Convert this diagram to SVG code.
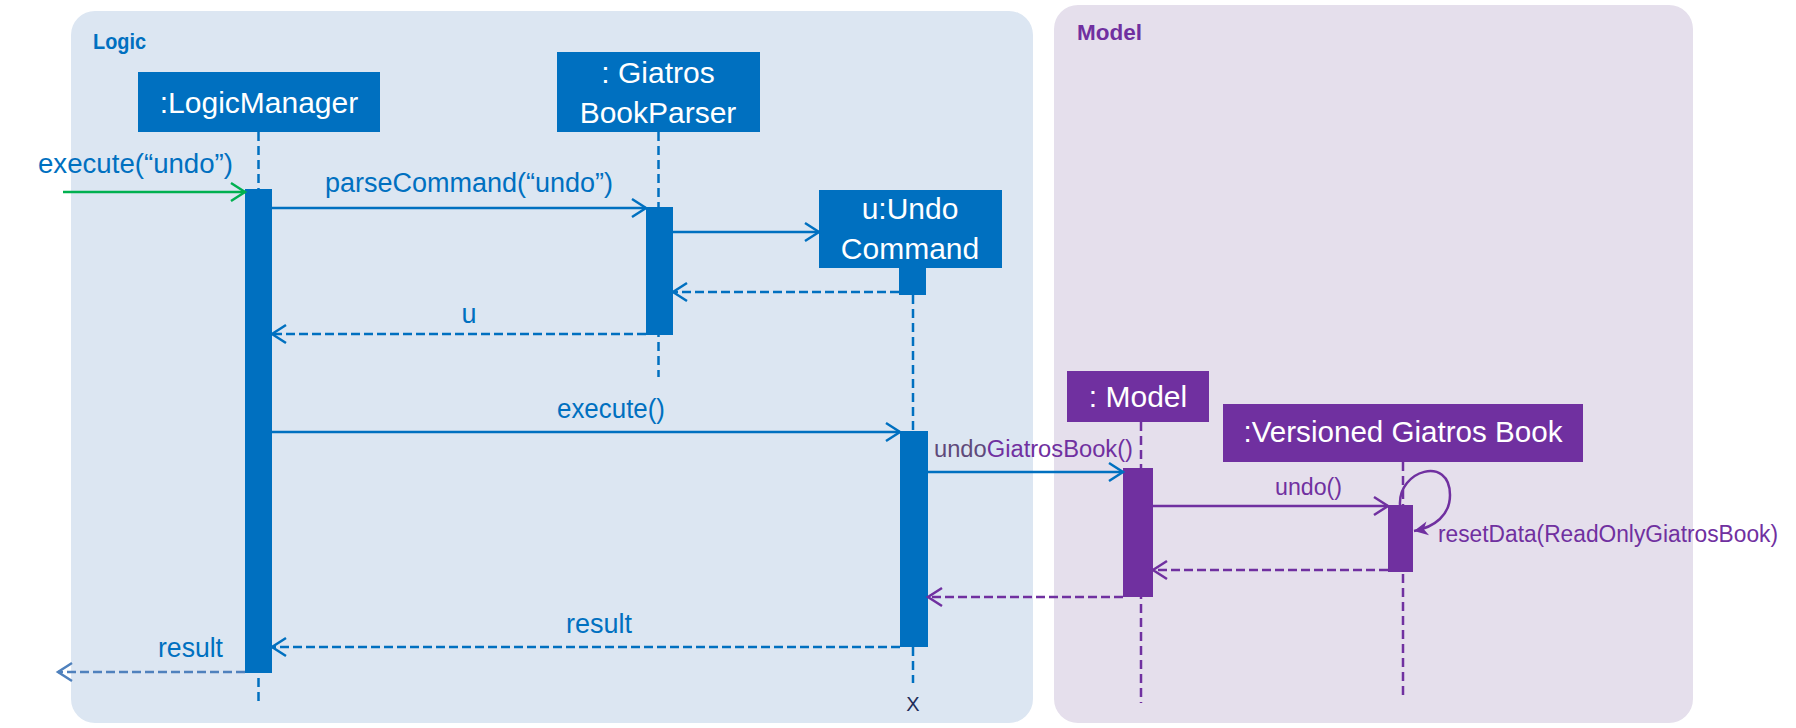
<svg xmlns="http://www.w3.org/2000/svg" width="1796" height="728" viewBox="0 0 1796 728">
<style>
text{font-family:"Liberation Sans",Arial,sans-serif}
.box{fill:#0070C0}
.pbox{fill:#7030A0}
.bt{fill:#ffffff;font-size:30px;text-anchor:middle}
.lbl{fill:#0070C0;font-size:27px}
.plbl{fill:#7030A0;font-size:23px}
.ll{stroke:#0070C0;stroke-width:2.5;stroke-dasharray:9 5;fill:none}
.pll{stroke:#7030A0;stroke-width:2.5;stroke-dasharray:9 5;fill:none}
.msg{stroke:#0070C0;stroke-width:2.5;fill:none}
.ret{stroke:#0070C0;stroke-width:2.5;stroke-dasharray:9 4;fill:none}
.pmsg{stroke:#7030A0;stroke-width:2.5;fill:none}
.pret{stroke:#7030A0;stroke-width:2.5;stroke-dasharray:9 4;fill:none}
</style>
<defs>
<marker id="aBlue" markerUnits="userSpaceOnUse" markerWidth="20" markerHeight="22" refX="16" refY="11" orient="auto"><path d="M2,2 L16,11 L2,20" fill="none" stroke="#0070C0" stroke-width="2.5"/></marker>
<marker id="aGreen" markerUnits="userSpaceOnUse" markerWidth="20" markerHeight="22" refX="16" refY="11" orient="auto"><path d="M2,2 L16,11 L2,20" fill="none" stroke="#00B050" stroke-width="2.5"/></marker>
<marker id="aPurple" markerUnits="userSpaceOnUse" markerWidth="20" markerHeight="22" refX="16" refY="11" orient="auto"><path d="M2,2 L16,11 L2,20" fill="none" stroke="#7030A0" stroke-width="2.5"/></marker>
<marker id="aLight" markerUnits="userSpaceOnUse" markerWidth="20" markerHeight="22" refX="16" refY="11" orient="auto"><path d="M2,2 L16,11 L2,20" fill="none" stroke="#4F81BD" stroke-width="2.5"/></marker>
<marker id="aPurpleFill" markerUnits="userSpaceOnUse" markerWidth="20" markerHeight="20" refX="15" refY="10" orient="auto"><path d="M1,3 L15,10 L1,17 L5,10 Z" fill="#7030A0"/></marker>
</defs>

<g id="panel-logic">
<rect x="71" y="11" width="962" height="712" rx="24" fill="#DCE6F2"/>
<text x="93" y="49" font-size="22" font-weight="bold" fill="#0070C0" textLength="53" lengthAdjust="spacingAndGlyphs">Logic</text>
</g>
<g id="panel-model">
<rect x="1054" y="5" width="639" height="718" rx="24" fill="#E5DFEC"/>
<text x="1077" y="40" font-size="22" font-weight="bold" fill="#7030A0" textLength="65" lengthAdjust="spacingAndGlyphs">Model</text>
</g>

<g id="lifelines">
<line class="ll" x1="258.5" y1="132" x2="258.5" y2="703"/>
<line class="ll" x1="658.5" y1="132" x2="658.5" y2="377"/>
<line class="ll" x1="913" y1="295" x2="913" y2="431"/>
<line class="ll" x1="913" y1="647" x2="913" y2="683"/>
<line class="pll" x1="1141" y1="422" x2="1141" y2="703"/>
<line class="pll" x1="1403" y1="462" x2="1403" y2="696"/>
</g>

<g id="node-logicmanager">
<rect class="box" x="138" y="72" width="242" height="60"/>
<text class="bt" x="259" y="113">:LogicManager</text>
<rect class="box" x="245" y="189" width="27" height="484"/>
</g>
<g id="node-parser">
<rect class="box" x="557" y="52" width="203" height="80"/>
<text class="bt" x="658" y="83">: Giatros</text>
<text class="bt" x="658" y="123">BookParser</text>
<rect class="box" x="646" y="207" width="27" height="128"/>
</g>
<g id="node-undocommand">
<rect class="box" x="819" y="190" width="183" height="78"/>
<text class="bt" x="910" y="219">u:Undo</text>
<text class="bt" x="910" y="259">Command</text>
<rect class="box" x="899" y="266" width="27" height="29"/>
<rect class="box" x="900" y="431" width="28" height="216"/>
<text x="913" y="711" font-size="20" fill="#1F2D5A" text-anchor="middle">X</text>
</g>
<g id="node-model">
<rect class="pbox" x="1067" y="371" width="142" height="51"/>
<text class="bt" x="1138" y="407">: Model</text>
<rect class="pbox" x="1123" y="468" width="30" height="129"/>
</g>
<g id="node-versioned">
<rect class="pbox" x="1223" y="404" width="360" height="58"/>
<text class="bt" x="1403" y="442" textLength="319" lengthAdjust="spacingAndGlyphs">:Versioned Giatros Book</text>
<rect class="pbox" x="1388" y="505" width="25" height="67"/>
</g>

<g id="connectors">
<line x1="63" y1="192" x2="245" y2="192" stroke="#00B050" stroke-width="2.5" marker-end="url(#aGreen)"/>
<text class="lbl" x="38" y="173" textLength="195" lengthAdjust="spacingAndGlyphs">execute(“undo”)</text>

<line class="msg" x1="272" y1="208" x2="646" y2="208" marker-end="url(#aBlue)"/>
<text class="lbl" x="325" y="192" textLength="288" lengthAdjust="spacingAndGlyphs">parseCommand(“undo”)</text>

<line class="msg" x1="673" y1="232" x2="819" y2="232" marker-end="url(#aBlue)"/>

<line class="ret" x1="899" y1="292" x2="673" y2="292" marker-end="url(#aBlue)"/>

<line class="ret" x1="646" y1="334" x2="272" y2="334" marker-end="url(#aBlue)"/>
<text class="lbl" x="469" y="323" text-anchor="middle">u</text>

<line class="msg" x1="272" y1="432" x2="900" y2="432" marker-end="url(#aBlue)"/>
<text class="lbl" x="557" y="418" font-size="26" textLength="108" lengthAdjust="spacingAndGlyphs">execute()</text>

<line class="msg" x1="928" y1="472" x2="1123" y2="472" marker-end="url(#aBlue)"/>
<text x="934" y="457" font-size="23.5" textLength="199" lengthAdjust="spacingAndGlyphs"><tspan fill="#5F497A">undo</tspan><tspan fill="#7030A0">GiatrosBook()</tspan></text>

<line class="pmsg" x1="1153" y1="506" x2="1388" y2="506" marker-end="url(#aPurple)"/>
<text class="plbl" x="1275" y="495" textLength="67" lengthAdjust="spacingAndGlyphs">undo()</text>

<path class="pmsg" d="M1400,505 C1398,470 1450,455 1450,495 C1450,515 1435,527 1414,531" marker-end="url(#aPurpleFill)"/>
<text class="plbl" x="1438" y="542" textLength="340" lengthAdjust="spacingAndGlyphs">resetData(ReadOnlyGiatrosBook)</text>

<line class="pret" x1="1388" y1="570" x2="1153" y2="570" marker-end="url(#aPurple)"/>
<line class="pret" x1="1123" y1="597" x2="928" y2="597" marker-end="url(#aPurple)"/>

<line class="ret" x1="900" y1="647" x2="272" y2="647" marker-end="url(#aBlue)"/>
<text class="lbl" x="566" y="633" textLength="66" lengthAdjust="spacingAndGlyphs">result</text>

<line x1="245" y1="672" x2="58" y2="672" stroke="#4F81BD" stroke-width="2.5" stroke-dasharray="9 4" marker-end="url(#aLight)"/>
<text class="lbl" x="158" y="657" textLength="65" lengthAdjust="spacingAndGlyphs">result</text>
</g>
</svg>
